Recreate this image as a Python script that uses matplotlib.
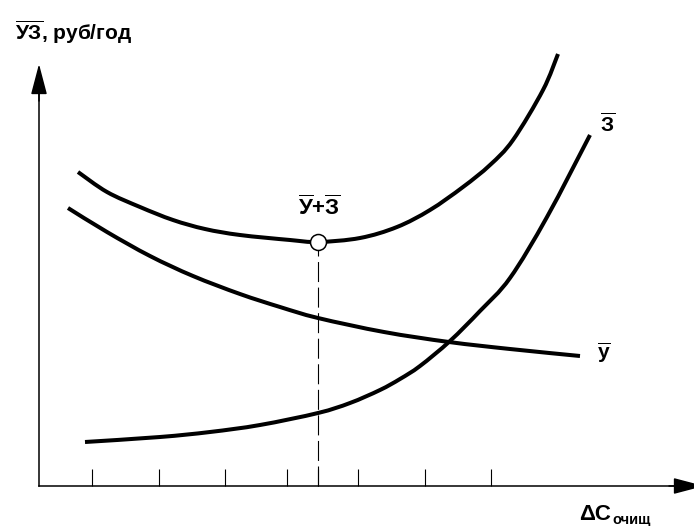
import matplotlib
matplotlib.use("Agg")
import matplotlib.pyplot as plt
import numpy as np
from matplotlib.path import Path
from matplotlib.patches import PathPatch

plt.rcParams['font.family'] = ['Liberation Sans', 'DejaVu Sans']
plt.rcParams['mathtext.fontset'] = 'custom'
plt.rcParams['mathtext.rm'] = 'Liberation Sans:bold'
plt.rcParams['mathtext.it'] = 'Liberation Sans:bold:italic'
plt.rcParams['mathtext.bf'] = 'Liberation Sans:bold'

# --- data (arbitrary units, origin at axes crossing) ---
y_loss_x = [29, 68, 111, 154, 201, 241, 279, 345, 410, 471, 541]
y_loss_v = [278, 254, 230, 210, 192, 179, 168, 154, 144, 137, 130]

z_cost_x = [46, 121, 171, 221, 279, 311, 341, 361, 381, 411, 441, 471, 508, 551]
z_cost_v = [44, 49, 54, 61, 73, 83, 96, 107, 120, 145, 175, 208, 269, 351]

sum_x = [39, 68, 101, 134, 166, 201, 251, 279, 321, 358, 391, 424, 451, 474, 504, 519]
sum_v = [314, 294, 279, 266, 257, 251, 246, 244, 248, 259, 276, 299, 321, 346, 396, 432]

opt_x = 279
opt_v = 244

tick_positions = [53, 120, 186, 248, 279, 319, 386, 452]

ylabel_text = r"$\overline{\mathrm{У}}\overline{\mathrm{З}}$, руб/год"
sum_label = r"$\overline{\mathrm{У}}$+$\overline{\mathrm{З}}$"
z_label = r"$\overline{\mathrm{З}}$"
y_label = r"$\overline{\mathrm{у}}$"
x_label_main = "ΔC"
x_label_sub = "очищ"


def smooth_path(xs, ys):
    """Catmull-Rom curve through the given data points, as a Bezier path."""
    p = np.column_stack([xs, ys]).astype(float)
    n = len(p)
    verts = [p[0]]
    codes = [Path.MOVETO]
    for i in range(n - 1):
        p0 = p[i - 1] if i > 0 else p[i]
        p1 = p[i]
        p2 = p[i + 1]
        p3 = p[i + 2] if i + 2 < n else p[i + 1]
        c1 = p1 + (p2 - p0) / 6.0
        c2 = p2 - (p3 - p1) / 6.0
        verts += [c1, c2, p2]
        codes += [Path.CURVE4] * 3
    return Path(verts, codes)


fig = plt.figure(figsize=(6.94, 5.26), dpi=100)
ax = fig.add_axes([0, 0, 1, 1])
ax.set_xlim(-39, 655)
ax.set_ylim(-40, 486)

# axes with arrows
for s in ['top', 'right']:
    ax.spines[s].set_visible(False)
ax.spines['bottom'].set_position(('data', 0))
ax.spines['left'].set_position(('data', 0))
ax.spines['bottom'].set_bounds(0, 645)
ax.spines['left'].set_bounds(0, 400)
ax.spines['bottom'].set_linewidth(1.1)
ax.spines['left'].set_linewidth(1.1)
arrow_style = '-|>,head_length=1.9,head_width=0.5'
ax.annotate('', xy=(665, 0), xytext=(630, 0),
            arrowprops=dict(arrowstyle=arrow_style, mutation_scale=10,
                            color='black', lw=1.1, shrinkA=0, shrinkB=0),
            annotation_clip=False)
ax.annotate('', xy=(0, 422), xytext=(0, 385),
            arrowprops=dict(arrowstyle=arrow_style, mutation_scale=10,
                            color='black', lw=1.1, shrinkA=0, shrinkB=0))

ax.set_xticks(tick_positions)
ax.set_xticklabels([])
ax.set_yticks([])
ax.tick_params(axis='x', direction='in', length=12, width=0.8, color='black')

# curves
lw = 2.9
for xs, ys in [(y_loss_x, y_loss_v), (z_cost_x, z_cost_v), (sum_x, sum_v)]:
    ax.add_patch(PathPatch(smooth_path(xs, ys), facecolor='none',
                           edgecolor='black', lw=lw, capstyle='butt', zorder=3))

# optimum
ax.plot([opt_x, opt_x], [0, opt_v], color='black', lw=0.8, dashes=(18, 5), zorder=2)
ax.plot([opt_x], [opt_v], marker='o', ms=11.5, mfc='white', mec='black', mew=1.1,
        zorder=5)

# labels
ax.text(-24, 446, ylabel_text, fontsize=15, fontweight='bold', ha='left', va='baseline')
ax.text(280, 271, sum_label, fontsize=16, fontweight='bold', ha='center', va='baseline')
ax.text(561, 354, z_label, fontsize=15, fontweight='bold', ha='left', va='baseline')
ax.text(558, 127, y_label, fontsize=15, fontweight='bold', ha='left', va='baseline')
ax.text(540, -34, x_label_main, fontsize=16, fontweight='bold', ha='left', va='baseline')
ax.text(573, -38, x_label_sub, fontsize=10.5, fontweight='bold', ha='left', va='baseline')

fig.savefig("out.png", dpi=100)
